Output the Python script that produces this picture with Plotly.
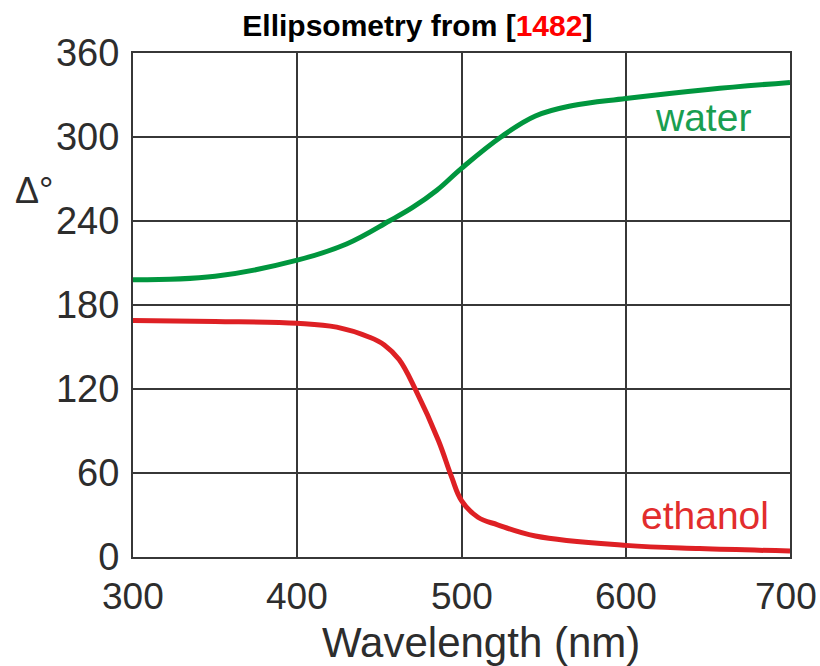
import plotly.graph_objects as go

# Ellipsometric phase angle Delta (degrees) vs wavelength for two liquids
wavelength_water = [300, 350, 400, 430, 456, 470, 485, 500, 524, 545, 567, 600, 650, 700]
delta_water = [198, 200.5, 212, 223.6, 240, 249.5, 262, 277.6, 300, 315, 322.3, 327.5, 334, 339]

wavelength_ethanol = [300, 350, 400, 424, 444, 453, 462, 472, 486, 494, 500, 510, 522, 545, 600, 645, 700]
delta_ethanol = [168.9, 168.3, 167, 164.2, 157, 151.5, 141, 119.5, 83, 57, 40.3, 28.4, 23, 15, 8.3, 6, 4.3]

x_ticks = [300, 400, 500, 600, 700]
y_ticks = [0, 60, 120, 180, 240, 300, 360]

GREEN = "rgb(0,150,62)"
RED = "rgb(222,32,36)"
GRID = "rgb(55,55,55)"
TEXT = "rgb(45,45,45)"
FONT = "Liberation Sans, Arial, sans-serif"

fig = go.Figure()
fig.add_trace(go.Scatter(
    x=wavelength_water, y=delta_water, mode="lines",
    line=dict(color=GREEN, width=5, shape="spline", smoothing=1.1),
    hoverinfo="skip", showlegend=False))
fig.add_trace(go.Scatter(
    x=wavelength_ethanol, y=delta_ethanol, mode="lines",
    line=dict(color=RED, width=5, shape="spline", smoothing=1.1),
    hoverinfo="skip", showlegend=False))

axis_common = dict(
    showgrid=True, gridcolor=GRID, gridwidth=2,
    showline=True, linecolor=GRID, linewidth=2, mirror=True,
    zeroline=False, ticks="",
)
# x tick labels are placed as annotations so the last one may overhang the frame
fig.update_xaxes(range=[300, 700], tickvals=x_ticks, showticklabels=False, **axis_common)
fig.update_yaxes(range=[0, 360], tickvals=y_ticks, ticktext=[str(v) for v in y_ticks],
                 ticklabelstandoff=4, tickfont=dict(family=FONT, size=38, color=TEXT),
                 **axis_common)

annotations = [
    dict(text=str(v), xref="x", yref="paper", x=v, y=-0.034,
         xanchor="center", yanchor="top", showarrow=False,
         xshift=-4 if v == x_ticks[-1] else 0,
         font=dict(family=FONT, size=37, color=TEXT))
    for v in x_ticks
]
annotations += [
    dict(text="Wavelength (nm)", xref="paper", yref="paper", x=0.53, y=-0.169,
         xanchor="center", yanchor="middle", showarrow=False,
         font=dict(family=FONT, size=42, color=TEXT)),
    dict(text="Δ°", xref="paper", yref="paper", x=-0.15, y=0.728,
         xanchor="center", yanchor="middle", showarrow=False,
         font=dict(family=FONT, size=36, color=TEXT)),
    dict(text="water", xref="x", yref="y", x=647, y=297,
         xanchor="center", yanchor="bottom", showarrow=False,
         font=dict(family=FONT, size=39, color="rgb(25,158,80)")),
    dict(text="ethanol", xref="x", yref="y", x=648, y=13,
         xanchor="center", yanchor="bottom", showarrow=False,
         font=dict(family=FONT, size=39, color="rgb(226,45,45)")),
]

fig.update_layout(
    width=820, height=666,
    margin=dict(l=133, r=30, t=53, b=109),
    paper_bgcolor="white", plot_bgcolor="white",
    font=dict(family=FONT, color=TEXT),
    title=dict(
        text="Ellipsometry from [<span style='color:rgb(255,0,0)'>1482</span>]",
        x=0.509, xanchor="center", y=0.977, yanchor="top",
        font=dict(family=FONT, size=30, color="black", weight="bold"),
    ),
    annotations=annotations,
)

fig.write_html("out.html")
